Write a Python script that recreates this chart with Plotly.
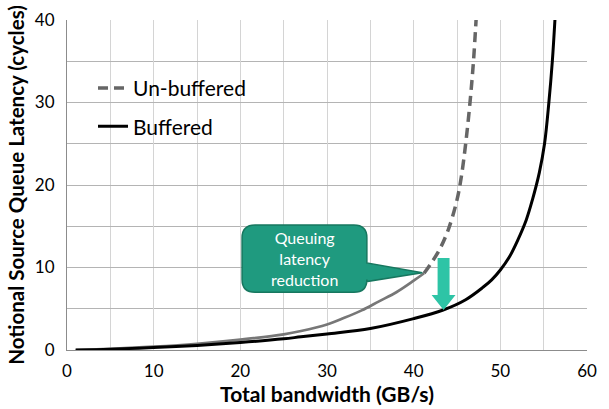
import plotly.graph_objects as go

# Data
unbuf_x = [1, 5, 10, 15, 20, 25, 27, 30, 32, 34, 36, 38, 40, 41.2, 42, 43, 44, 45, 45.5, 46, 46.5, 46.9, 47.2]
unbuf_y = [0, 0.15, 0.4, 0.75, 1.25, 1.9, 2.3, 3.1, 3.9, 4.8, 5.9, 7.0, 8.4, 9.3, 10.5, 12.2, 14.6, 18.2, 21.0, 25.0, 30.0, 35.0, 40.0]
buf_x = [1, 5, 10, 15, 20, 25, 27, 30, 35, 40, 43.4, 46, 48, 49, 50, 51, 52, 53, 53.7, 54.5, 55.1, 55.6, 56.0, 56.3]
buf_y = [0, 0.1, 0.3, 0.55, 0.9, 1.35, 1.6, 1.95, 2.6, 3.8, 4.85, 6.1, 7.6, 8.5, 9.7, 11.2, 13.3, 15.8, 18.2, 21.5, 25.0, 30.0, 35.0, 40.0]

x_ticks = [0, 10, 20, 30, 40, 50, 60]
y_ticks = [0, 10, 20, 30, 40]
callout_text = "Queuing<br>latency<br>reduction"

FONT = "Lato, 'Gill Sans MT', 'Open Sans', sans-serif"

# Excel renders the short dense segments of the lower part as a solid line
split = unbuf_x.index(41.2)

fig = go.Figure()
fig.add_trace(go.Scatter(x=unbuf_x[:split + 1], y=unbuf_y[:split + 1], mode="lines",
                         line=dict(color="#777777", width=2.7), showlegend=False,
                         hoverinfo="skip", line_shape="spline"))
fig.add_trace(go.Scatter(x=unbuf_x[split:], y=unbuf_y[split:], mode="lines", name="Un-buffered",
                         line=dict(color="#666666", width=3.5, dash="10px,6px"),
                         legendgroup="a", line_shape="spline"))
fig.add_trace(go.Scatter(x=buf_x, y=buf_y, mode="lines", name="Buffered",
                         line=dict(color="#000000", width=3),
                         legendgroup="b", line_shape="spline"))

# Callout box geometry (data units)
bx0, bx1, by0, by1 = 20.2, 34.6, 7.0, 15.15
rx, ry = 1.5, 1.55
tip_x, tip_y = 41.0, 9.35
pb_top, pb_bot = 10.55, 8.3
path = (f"M {bx0+rx},{by1} L {bx1-rx},{by1} Q {bx1},{by1} {bx1},{by1-ry} "
        f"L {bx1},{pb_top} L {tip_x},{tip_y} L {bx1},{pb_bot} "
        f"L {bx1},{by0+ry} Q {bx1},{by0} {bx1-rx},{by0} L {bx0+rx},{by0} "
        f"Q {bx0},{by0} {bx0},{by0+ry} L {bx0},{by1-ry} Q {bx0},{by1} {bx0+rx},{by1} Z")
fig.add_shape(type="path", path=path, xref="x", yref="y",
              fillcolor="#1f9a7f", line=dict(color="#17775f", width=1.5), layer="above")

# Down arrow
ax, a_top, a_neck, a_tip = 43.45, 11.15, 6.67, 4.85
sw, hw = 0.69, 1.38
apath = (f"M {ax-sw},{a_top} L {ax+sw},{a_top} L {ax+sw},{a_neck} L {ax+hw},{a_neck} "
         f"L {ax},{a_tip} L {ax-hw},{a_neck} L {ax-sw},{a_neck} Z")
fig.add_shape(type="path", path=apath, xref="x", yref="y",
              fillcolor="#2ec4a6", line=dict(color="#2ec4a6", width=0), layer="above")

fig.add_annotation(x=(bx0 + bx1) / 2, y=(by0 + by1) / 2, xref="x", yref="y",
                   text=callout_text, showarrow=False,
                   font=dict(family=FONT, size=16, color="white"), align="center")

fig.update_layout(
    width=609, height=409,
    margin=dict(l=67, r=22, t=20, b=59),
    paper_bgcolor="white", plot_bgcolor="white",
    font=dict(family=FONT, size=14, color="#000"),
    showlegend=True,
    legend=dict(x=0.05, y=0.855, xanchor="left", yanchor="top",
                font=dict(family=FONT, size=21, color="#000"),
                bgcolor="rgba(0,0,0,0)", tracegroupgap=8, itemwidth=30),
    xaxis=dict(range=[0, 60], tickvals=x_ticks, ticktext=[str(v) for v in x_ticks],
               automargin=False,
               showgrid=True, gridcolor="#d4d4d4", gridwidth=1,
               minor=dict(dtick=5, showgrid=True, gridcolor="#d4d4d4", gridwidth=1),
               showline=True, linecolor="#8c8c8c", linewidth=1, ticks="",
               zeroline=False, ticklabelstandoff=6,
               title=dict(text="<b>Total bandwidth (GB/s)</b>", font=dict(family=FONT, size=21), standoff=3),
               tickfont=dict(family=FONT, size=17, color="#000")),
    yaxis=dict(range=[0, 40], tickvals=y_ticks, ticktext=[str(v) for v in y_ticks],
               automargin=False,
               showgrid=True, gridcolor="#b4b4b4", gridwidth=1,
               minor=dict(dtick=5, showgrid=True, gridcolor="#b4b4b4", gridwidth=1),
               showline=True, linecolor="#8c8c8c", linewidth=1, ticks="",
               zeroline=False, ticklabelstandoff=8,
               title=dict(text="<b>Notional Source Queue Latency (cycles)</b>", font=dict(family=FONT, size=20.5), standoff=4),
               tickfont=dict(family=FONT, size=17, color="#000")),
)

fig.write_html("out.html", config={"displayModeBar": False},
               post_script="document.body.style.margin='0';document.body.style.overflow='hidden';")
